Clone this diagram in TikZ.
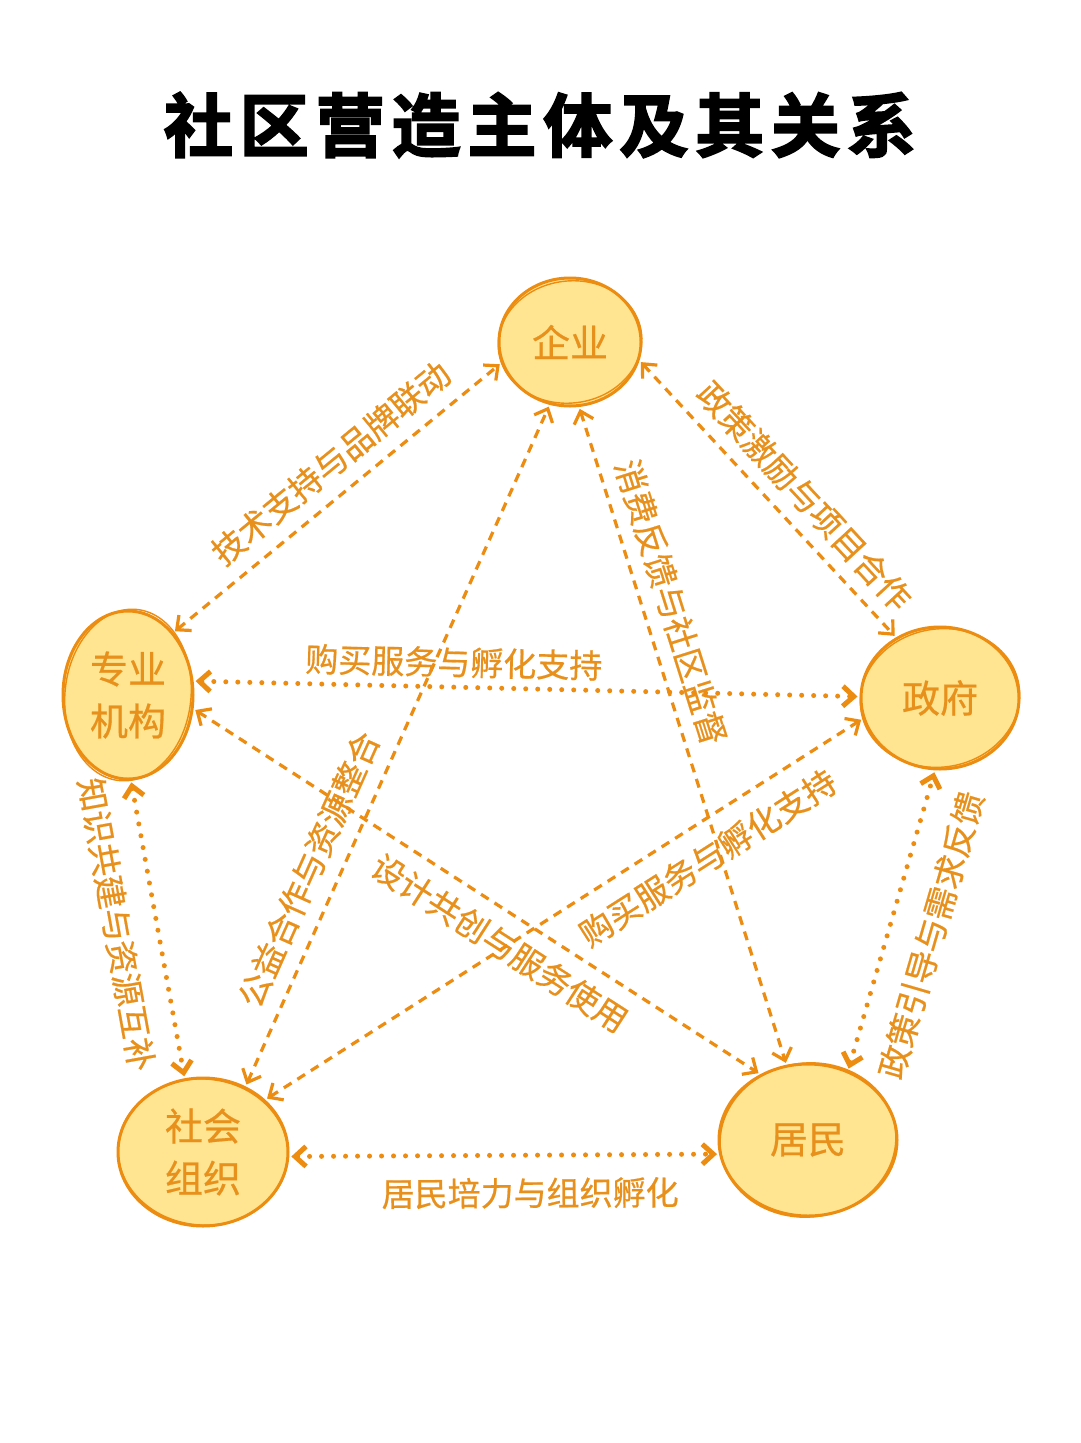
\documentclass[tikz,border=0pt]{standalone}
\usepackage{fontspec}
\usetikzlibrary{positioning,arrows.meta,shapes.geometric}
\setmainfont{Noto Sans CJK SC}
\newfontfamily\titlefont{Noto Sans CJK SC Bold}[FakeBold=3,LetterSpace=10]
\newfontfamily\relfont{Noto Sans CJK SC}[FakeBold=0.6]
\definecolor{sunOrange}{HTML}{EC8C10}
\definecolor{textOrange}{HTML}{E8901C}
\definecolor{sunFill}{HTML}{FFE591}
\tikzset{
    actor/.style={ellipse,draw=sunOrange,fill=sunFill,line width=3pt,inner sep=0pt,
        align=center,text=textOrange,font=\relfont\fontsize{38}{52}\selectfont},
    sketch/.style={draw=sunOrange,line width=1.4pt},
    linkbase/.style={draw=sunOrange,>={Straight Barb[length=11pt,width=20pt]},<->,
        shorten >=2pt,shorten <=2pt},
    linkdash/.style={linkbase,line width=3.2pt,dash pattern=on 9pt off 7pt},
    linkdot/.style={linkbase,line width=5pt,line cap=round,dash pattern=on 0pt off 12pt},
    rel/.style={sloped,text=textOrange,inner sep=2pt,font=\relfont\fontsize{33}{33}\selectfont}
}
\begin{document}
\begin{tikzpicture}[x=1pt,y=-1pt]
    \fill[white] (0,0) rectangle (1080,1443);
    \useasboundingbox (0,0) rectangle (1080,1443);
    \node[font=\titlefont\fontsize{69}{69}\selectfont] (title) at (540,125) {社区营造主体及其关系};
    % actors
    \node[actor,minimum width=142pt,minimum height=128pt] (qy) at (570,342) {企业};
    \node[actor,minimum width=130pt,minimum height=168pt] (zy) at (128,695) {专业\\机构};
    \node[actor,minimum width=158pt,minimum height=142pt] (zf) at (940,698) {政府};
    \node[actor,minimum width=170pt,minimum height=148pt] (sz) at (203,1152) {社会\\组织};
    \node[actor,minimum width=178pt,minimum height=152pt] (jm) at (808,1140) {居民};
    \foreach \n/\rx/\ry/\rot in {qy/72/61/8,zy/63/86/-6,zf/80/69/10,sz/85/73/-5,jm/88/77/7}
        \draw[sketch] (\n.center) ellipse[x radius=\rx,y radius=\ry,rotate=\rot];
    % relations
    \draw[linkdash] (zy.54) -- node[rel,pos=0.54,above=12pt] {技术支持与品牌联动} (qy.197);
    \draw[linkdash] (qy.-15) -- node[rel,pos=0.56,above=10pt] {政策激励与项目合作} (zf.126);
    \draw[linkdash] (sz.57) -- node[rel,pos=0.3,above=12pt] {公益合作与资源整合} (qy.252);
    \draw[linkdash] (qy.278) -- node[rel,pos=0.31,above=10pt] {消费反馈与社区监督} (jm.106);
    \draw[linkdot] (zy.12) -- node[rel,pos=0.39,above=5pt] {购买服务与孵化支持} (zf.179);
    \draw[linkdash] (zy.-12) -- node[rel,pos=0.57,below=12pt] {设计共创与服务使用} (jm.126);
    \draw[linkdash] (sz.40) -- node[rel,pos=0.71,below=15pt] {购买服务与孵化支持} (zf.195);
    \draw[linkdot] (zy.-88) -- node[rel,pos=0.46,below=20pt] {知识共建与资源互补} (sz.104);
    \draw[linkdot] (jm.60) -- node[rel,pos=0.49,below=22pt] {政策引导与需求反馈} (zf.266);
    \draw[linkdot] (sz.-3) -- node[rel,pos=0.56,below=18pt] {居民培力与组织孵化} (jm.189);
\end{tikzpicture}
\end{document}
